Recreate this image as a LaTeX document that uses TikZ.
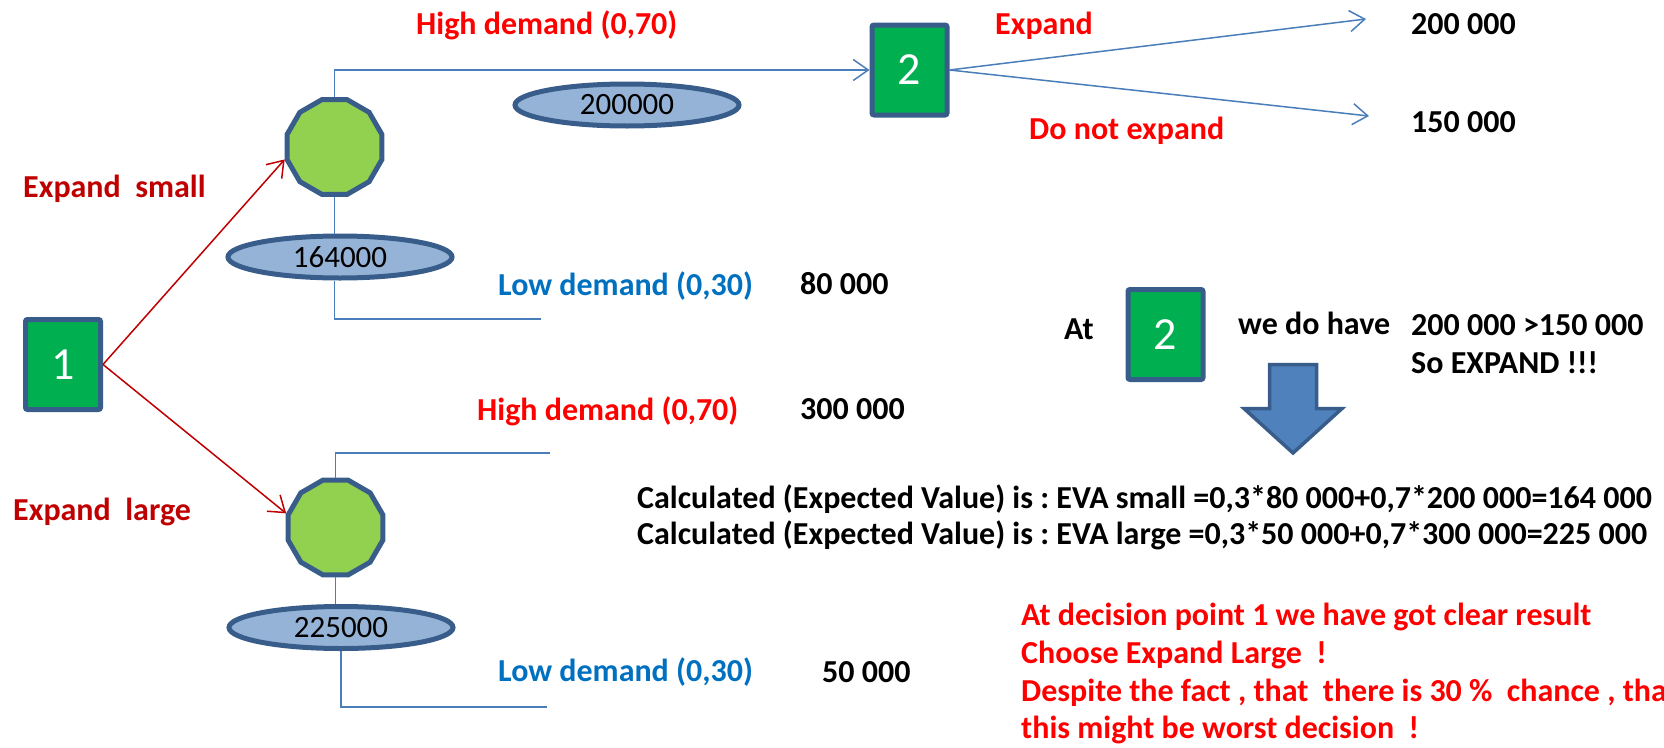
\documentclass[tikz,border=0pt]{standalone}
\usepackage{fontspec}
\setmainfont{Carlito}
\usetikzlibrary{shapes.geometric,arrows.meta}
\frenchspacing

\definecolor{boxgreen}{HTML}{00B050}
\definecolor{octgreen}{HTML}{92D050}
\definecolor{ellblue}{HTML}{95B3D7}
\definecolor{edgeblue}{HTML}{385D8A}
\definecolor{lineblue}{HTML}{4A7EBB}
\definecolor{arrowblue}{HTML}{4F81BD}
\definecolor{darkred}{HTML}{C00000}
\definecolor{brightred}{HTML}{FF0000}
\definecolor{lowblue}{HTML}{0070C0}

\begin{document}
\begin{tikzpicture}[x=1pt,y=-1pt,
	decbox/.style={draw=edgeblue, line width=5pt, fill=boxgreen, rounded corners=2pt,
		minimum width=75pt, minimum height=90pt, inner sep=0pt, text=white,
		font=\fontsize{46}{50}\selectfont},
	chance/.style={regular polygon, regular polygon sides=12, draw=edgeblue, line width=5pt,
		fill=octgreen, minimum size=98pt, inner sep=0pt},
	valoval/.style={ellipse, draw=edgeblue, line width=5pt, fill=ellblue, minimum width=224pt,
		minimum height=42pt, inner sep=0pt, font=\fontsize{31}{36}\selectfont},
	tree/.style={draw=lineblue, line width=1.5pt},
	pick/.style={draw=darkred, line width=1.5pt},
	openhead/.style={-{Straight Barb[length=15pt,width=21pt]}},
	lbl/.style={anchor=base west, inner sep=0pt, font=\fontsize{32}{38}\selectfont\bfseries}]
	\useasboundingbox (0,0) rectangle (1664,747);
	
	% Decision and chance nodes
	\node[decbox] (b1) at (63,364.5) {1};
	\node[chance] (o1) at (334.5,147) {};
	\node[chance] (o2) at (335.5,527.5) {};
	\node[decbox] (b2) at (909.5,70) {2};
	
	% Expected values
	\node[valoval] (e1) at (340,257) {164000};
	\node[valoval] (e2) at (627,105) {200000};
	\node[valoval] (e3) at (341,627.5) {225000};
	
	% Branch ends
	\coordinate (t1) at (1366,19);
	\coordinate (t2) at (1369,116);
	\coordinate (lo1) at (541,319);
	\coordinate (hi2) at (550,453);
	\coordinate (lo2) at (547,707);
	
	% Branches
	\draw[pick,openhead] (b1.east) -- (o1.194);
	\draw[pick,openhead] (b1.east) -- (o2.164);
	\draw[tree,openhead] (o1.north) |- (b2.west);
	\draw[tree] (o1.south) -- (o1.south |- e1.north);
	\draw[tree] (o1.south |- e1.south) |- (lo1);
	\draw[tree] (o2.north) |- (hi2);
	\draw[tree] (o2.south) -- (o2.south |- e3.north);
	\draw[tree] (e3.south) |- (lo2);
	\draw[tree,openhead] (b2.east) -- (t1);
	\draw[tree,openhead] (b2.east) -- (t2);
	
	% Branch labels
	\node[lbl, text=brightred] (hd1) at (416,34) {High demand (0,70)};
	\node[lbl, text=brightred] (ex) at (995,34) {Expand};
	\node[lbl, text=brightred] (nex) at (1029,139) {Do not expand};
	\node[lbl] (v1) at (1411,34) {200 000};
	\node[lbl] (v2) at (1411,132) {150 000};
	\node[lbl, text=darkred] (exs) at (23,197) {Expand~ small};
	\node[lbl, text=lowblue] (ld1) at (498,295) {Low demand (0,30)};
	\node[lbl] (v3) at (800,294) {80 000};
	\node[lbl, text=brightred] (hd2) at (477,420) {High demand (0,70)};
	\node[lbl] (v4) at (800,419) {300 000};
	\node[lbl, text=darkred] (exl) at (13,520) {Expand~ large};
	\node[lbl, text=lowblue] (ld2) at (498,681) {Low demand (0,30)};
	\node[lbl] (v5) at (822,682) {50 000};
	
	% Comparison at 2
	\node[lbl] (at) at (1064,339) {At};
	\node[decbox] (b3) at (1165.5,334.5) {2};
	\node[lbl] (wdh) at (1238,334) {we do have};
	\node[lbl] (cmp) at (1411,335) {200 000 >150 000};
	\node[lbl] (so) at (1411,373) {So EXPAND !!!};
	\draw[draw=edgeblue, line width=3.5pt, fill=arrowblue]
		(1269.5,364.5) -- (1316.5,364.5) -- (1316.5,408.5) -- (1342,408.5) -- (1293,453)
		-- (1244,408.5) -- (1269.5,408.5) -- cycle;
	
	% Results
	\node[lbl] (c1) at (637,508) {Calculated (Expected Value) is : EVA small =0,3*80 000+0,7*200 000=164 000};
	\node[lbl] (c2) at (637,544) {Calculated (Expected Value) is : EVA large =0,3*50 000+0,7*300 000=225 000};
	\node[lbl, text=brightred] (r1) at (1021,625) {At decision point 1 we have got clear result};
	\node[lbl, text=brightred] (r2) at (1021,663) {Choose Expand Large~ !};
	\node[lbl, text=brightred] (r3) at (1021,701) {Despite the fact , that~ there is 30 \%~ chance , that};
	\node[lbl, text=brightred] (r4) at (1021,738) {this might be worst decision~ !};
\end{tikzpicture}
\end{document}
